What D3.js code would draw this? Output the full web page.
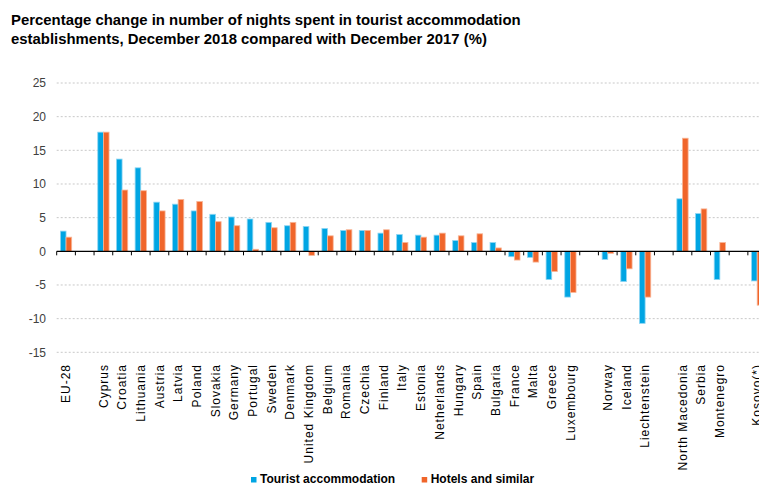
<!DOCTYPE html>
<html>
<head>
<meta charset="utf-8">
<script src="https://cdn.jsdelivr.net/npm/d3@7"></script>
<style>
  html, body { margin: 0; padding: 0; background: #fff; }
  svg { display: block; font-family: Arial, "Liberation Sans", sans-serif; }
</style>
</head>
<body>
<svg id="chart" width="759" height="485"></svg>
<script>
// ---- data ----
const categories = ["EU-28", null, "Cyprus", "Croatia", "Lithuania", "Austria", "Latvia", "Poland",
  "Slovakia", "Germany", "Portugal", "Sweden", "Denmark", "United Kingdom", "Belgium", "Romania",
  "Czechia", "Finland", "Italy", "Estonia", "Netherlands", "Hungary", "Spain", "Bulgaria", "France",
  "Malta", "Greece", "Luxembourg", null, "Norway", "Iceland", "Liechtenstein", null,
  "North Macedonia", "Serbia", "Montenegro", null, "Kosovo(*)"];
const touristAccommodation = [3.0, null, 17.7, 13.7, 12.4, 7.3, 7.0, 6.0, 5.5, 5.1, 4.8, 4.3, 3.8, 3.7,
  3.4, 3.1, 3.1, 2.7, 2.5, 2.4, 2.4, 1.6, 1.3, 1.3, -0.8, -0.9, -4.2, -6.8, null, -1.2, -4.5, -10.7,
  null, 7.8, 5.6, -4.2, null, -4.4];
const hotelsAndSimilar = [2.1, null, 17.7, 9.1, 9.0, 6.0, 7.7, 7.4, 4.4, 3.8, 0.3, 3.5, 4.3, -0.6,
  2.3, 3.2, 3.1, 3.2, 1.3, 2.1, 2.7, 2.3, 2.6, 0.5, -1.3, -1.6, -3.0, -6.1, null, -0.3, -2.6, -6.8,
  null, 16.8, 6.3, 1.3, null, -8.0];
const yTicks = [-15, -10, -5, 0, 5, 10, 15, 20, 25];
const seriesNames = ["Tourist accommodation", "Hotels and similar"];
const seriesColors = ["#00a5e3", "#f0652a"];
const seriesStroke = ["#8fd6f3", "#f8b596"];
const titleLines = ["Percentage change in number of nights spent in tourist accommodation",
  "establishments, December 2018 compared with December 2017 (%)"];

// ---- layout ----
const svg = d3.select("#chart");
const left = 56.7, step = 18.68;
const x = d3.scaleBand()
  .domain(d3.range(categories.length))
  .range([left, left + step * categories.length])
  .padding(0);
const y = d3.scaleLinear().domain([-15, 25]).range([352.3, 83]);
const inner = d3.scaleBand().domain([0, 1]).range([3.7, step - 3.7]).padding(0);
const right = 759;

// title
svg.append("g").selectAll("text").data(titleLines).join("text")
  .attr("x", 11).attr("y", (d, i) => 25 + i * 19)
  .attr("font-size", 14.9).attr("font-weight", "bold").attr("fill", "#000")
  .text(d => d);

// gridlines
svg.append("g").selectAll("line").data(yTicks.filter(t => t !== 0)).join("line")
  .attr("x1", left).attr("x2", right)
  .attr("y1", d => y(d)).attr("y2", d => y(d))
  .attr("stroke", "#c8c8c8").attr("stroke-width", 1).attr("stroke-dasharray", "2,2");

// y labels
svg.append("g").selectAll("text").data(yTicks).join("text")
  .attr("x", 46).attr("y", d => y(d)).attr("dy", "0.35em")
  .attr("text-anchor", "end").attr("font-size", 12).attr("fill", "#404040")
  .text(d => d);

// bars
const series = [touristAccommodation, hotelsAndSimilar];
series.forEach((vals, s) => {
  svg.append("g").selectAll("rect")
    .data(vals.map((v, i) => ({ v, i })).filter(d => d.v !== null))
    .join("rect")
    .attr("x", d => x(d.i) + inner(s))
    .attr("width", inner.bandwidth())
    .attr("y", d => y(Math.max(0, d.v)))
    .attr("height", d => Math.abs(y(d.v) - y(0)))
    .attr("fill", seriesColors[s])
    .attr("stroke", seriesStroke[s]).attr("stroke-width", 0.8);
});

// zero axis line + ticks
svg.append("line")
  .attr("x1", left).attr("x2", right).attr("y1", y(0)).attr("y2", y(0))
  .attr("stroke", "#000").attr("stroke-width", 1.2);
svg.append("g").selectAll("line").data(d3.range(categories.length + 1)).join("line")
  .attr("x1", d => left + d * step).attr("x2", d => left + d * step)
  .attr("y1", y(0)).attr("y2", y(0) + 4)
  .attr("stroke", "#000").attr("stroke-width", 1);

// x labels
svg.append("g").selectAll("text")
  .data(categories.map((c, i) => ({ c, i })).filter(d => d.c !== null))
  .join("text")
  .attr("transform", d => `translate(${x(d.i) + x.bandwidth() / 2},364) rotate(-90)`)
  .attr("text-anchor", "end").attr("dy", "0.35em")
  .attr("font-size", 12).attr("letter-spacing", 1).attr("fill", "#000")
  .text(d => d.c);

// legend
const legendX = [251, 421.7];
const lg = svg.append("g").selectAll("g").data(seriesNames).join("g")
  .attr("transform", (d, i) => `translate(${legendX[i]},0)`);
lg.append("rect").attr("x", 0).attr("y", 477).attr("width", 5.5).attr("height", 5.5)
  .attr("fill", (d, i) => seriesColors[i]);
lg.append("text").attr("x", 9).attr("y", 483)
  .attr("font-size", 12).attr("font-weight", "bold").attr("fill", "#000")
  .text(d => d);
</script>
</body>
</html>
